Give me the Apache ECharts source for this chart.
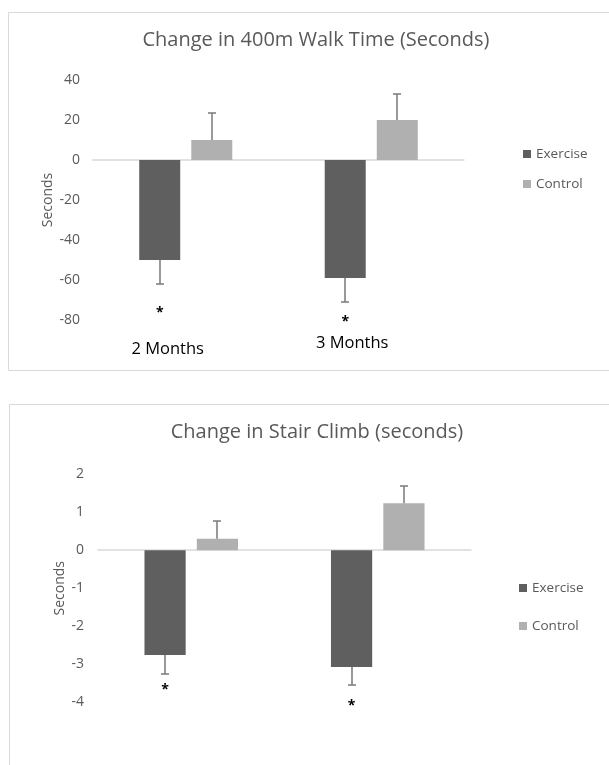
<!DOCTYPE html>
<html>
<head>
<meta charset="utf-8">
<script src="https://cdn.jsdelivr.net/npm/echarts@6/dist/echarts.min.js"></script>
<style>
html,body{margin:0;padding:0;background:#fff;}
#c{width:609px;height:765px;}
</style>
</head>
<body>
<div id="c"></div>
<script>
// ---- data ----
const categories = ['2 Months', '3 Months'];
const seriesNames = ['Exercise', 'Control'];

const walkTitle = 'Change in 400m Walk Time (Seconds)';
const walkExercise = [-50, -59];
const walkExerciseErr = [12, 12];
const walkControl = [10, 20];
const walkControlErr = [13.5, 13];
const walkSigAt = [-75, -79.5];
const walkTicks = { min: -80, max: 40, interval: 20 };

const stairTitle = 'Change in Stair Climb (seconds)';
const stairExercise = [-2.75, -3.07];
const stairExerciseErr = [0.49, 0.48];
const stairControl = [0.30, 1.23];
const stairControlErr = [0.47, 0.46];
const stairSigAt = [-3.6, -4.02];
const stairTicks = { min: -4, max: 2, interval: 1 };

const yName = 'Seconds';

// ---- style ----
const FONT = '"Open Sans"';
const C_EX = '#5f5f5f';
const C_CT = '#b0b0b0';
const C_TXT = '#595959';
const C_ERR = '#808080';
const BAR_FRAC = 0.221;
const GAP_FRAC = 0.27;

function errRender(sign) {
  return function (params, api) {
    const i = api.value(0), v = api.value(1), e = api.value(2);
    const band = api.size([1, 0])[0];
    const bw = band * BAR_FRAC;
    const dx = sign * bw * (1 + GAP_FRAC) / 2;
    const p0 = api.coord([i, v]);
    const p1 = api.coord([i, v < 0 ? v - e : v + e]);
    const x = Math.round(p0[0] + dx);
    const y1 = Math.round(p1[1]);
    const st = { stroke: C_ERR, lineWidth: 1.6 };
    return {
      type: 'group',
      children: [
        { type: 'line', shape: { x1: x, y1: p0[1], x2: x, y2: y1 }, style: st },
        { type: 'line', shape: { x1: x - 4, y1: y1, x2: x + 4, y2: y1 }, style: st }
      ]
    };
  };
}
function sigRender(params, api) {
  const i = api.value(0), v = api.value(1);
  const band = api.size([1, 0])[0];
  const bw = band * BAR_FRAC;
  const dx = -bw * (1 + GAP_FRAC) / 2;
  const p = api.coord([i, v]);
  return {
    type: 'text',
    style: { text: '*', x: p[0] + dx, y: p[1] + 3, align: 'center', verticalAlign: 'middle',
      fill: '#000', font: 'bold 14px ' + FONT }
  };
}

function zip3(a, b) { return a.map((v, i) => [i, v, b[i]]); }

const grids = [
  { left: 93, right: 145, top: 80, bottom: 445 },
  { left: 98, right: 138, top: 474, bottom: 62.5 }
];

function yAxis(gi, t, gap, margin) {
  return {
    type: 'value', gridIndex: gi, min: t.min, max: t.max, interval: t.interval,
    name: yName, nameLocation: 'middle', nameGap: gap, nameRotate: 90, nameMoveOverlap: false,
    nameTextStyle: { color: C_TXT, fontSize: 14, fontFamily: FONT },
    axisLine: { show: false }, axisTick: { show: false }, splitLine: { show: false },
    axisLabel: { color: C_TXT, fontSize: 14, fontFamily: FONT, margin: margin }
  };
}
function xAxisZero(gi) {
  return {
    type: 'category', gridIndex: gi, data: categories, position: 'bottom',
    axisLine: { onZero: true, lineStyle: { color: '#d9d9d9', width: 1.5 } },
    axisTick: { show: false }, axisLabel: { show: false }, splitLine: { show: false }
  };
}

const barBase = {
  type: 'bar', barWidth: (BAR_FRAC * 100) + '%', barGap: (GAP_FRAC * 100) + '%'
};

const option = {
  backgroundColor: '#fff',
  animation: false,
  graphic: [
    { type: 'rect', shape: { x: 8.5, y: 12.5, width: 620, height: 358 }, style: { fill: 'none', stroke: '#d9d9d9', lineWidth: 1 } },
    { type: 'rect', shape: { x: 9.5, y: 404.5, width: 620, height: 420 }, style: { fill: 'none', stroke: '#d9d9d9', lineWidth: 1 } }
  ],
  title: [
    { text: walkTitle, left: 311, top: 25, textAlign: 'center',
      textStyle: { color: C_TXT, fontSize: 20, fontWeight: 'normal', fontFamily: FONT } },
    { text: stairTitle, left: 312, top: 417, textAlign: 'center',
      textStyle: { color: C_TXT, fontSize: 20, fontWeight: 'normal', fontFamily: FONT } }
  ],
  legend: [
    { data: seriesNames, orient: 'vertical', left: 518, top: 142, itemWidth: 8, itemHeight: 8, itemGap: 16,
      icon: 'rect', textStyle: { color: C_TXT, fontSize: 13.5, fontFamily: FONT } },
    { data: seriesNames, orient: 'vertical', left: 514, top: 576, itemWidth: 8, itemHeight: 8, itemGap: 24,
      icon: 'rect', textStyle: { color: C_TXT, fontSize: 13.5, fontFamily: FONT } }
  ],
  grid: grids,
  xAxis: [
    xAxisZero(0),
    {
      type: 'category', gridIndex: 0, position: 'bottom',
      data: [
        { value: categories[0], textStyle: { padding: [6, 36, 0, 0] } },
        { value: categories[1], textStyle: { padding: [0, 38, 0, 0] } }
      ],
      axisLine: { show: false }, axisTick: { show: false }, splitLine: { show: false },
      axisLabel: { color: '#000', fontSize: 16.5, fontFamily: FONT, margin: 15 }
    },
    xAxisZero(1)
  ],
  yAxis: [yAxis(0, walkTicks, 38, 13), yAxis(1, stairTicks, 31, 14)],
  series: [
    Object.assign({ name: 'Exercise', xAxisIndex: 0, yAxisIndex: 0, data: walkExercise, itemStyle: { color: C_EX } }, barBase),
    Object.assign({ name: 'Control', xAxisIndex: 0, yAxisIndex: 0, data: walkControl, itemStyle: { color: C_CT } }, barBase),
    { type: 'custom', xAxisIndex: 0, yAxisIndex: 0, renderItem: errRender(-1), data: zip3(walkExercise, walkExerciseErr), z: 5 },
    { type: 'custom', xAxisIndex: 0, yAxisIndex: 0, renderItem: errRender(1), data: zip3(walkControl, walkControlErr), z: 5 },
    { type: 'custom', xAxisIndex: 0, yAxisIndex: 0, renderItem: sigRender, data: walkSigAt.map((v, i) => [i, v]), z: 5 },

    Object.assign({ name: 'Exercise', xAxisIndex: 2, yAxisIndex: 1, data: stairExercise, itemStyle: { color: C_EX } }, barBase),
    Object.assign({ name: 'Control', xAxisIndex: 2, yAxisIndex: 1, data: stairControl, itemStyle: { color: C_CT } }, barBase),
    { type: 'custom', xAxisIndex: 2, yAxisIndex: 1, renderItem: errRender(-1), data: zip3(stairExercise, stairExerciseErr), z: 5 },
    { type: 'custom', xAxisIndex: 2, yAxisIndex: 1, renderItem: errRender(1), data: zip3(stairControl, stairControlErr), z: 5 },
    { type: 'custom', xAxisIndex: 2, yAxisIndex: 1, renderItem: sigRender, data: stairSigAt.map((v, i) => [i, v]), z: 5 }
  ]
};

const chart = echarts.init(document.getElementById('c'), null, { renderer: 'canvas' });
chart.setOption(option);
</script>
</body>
</html>
